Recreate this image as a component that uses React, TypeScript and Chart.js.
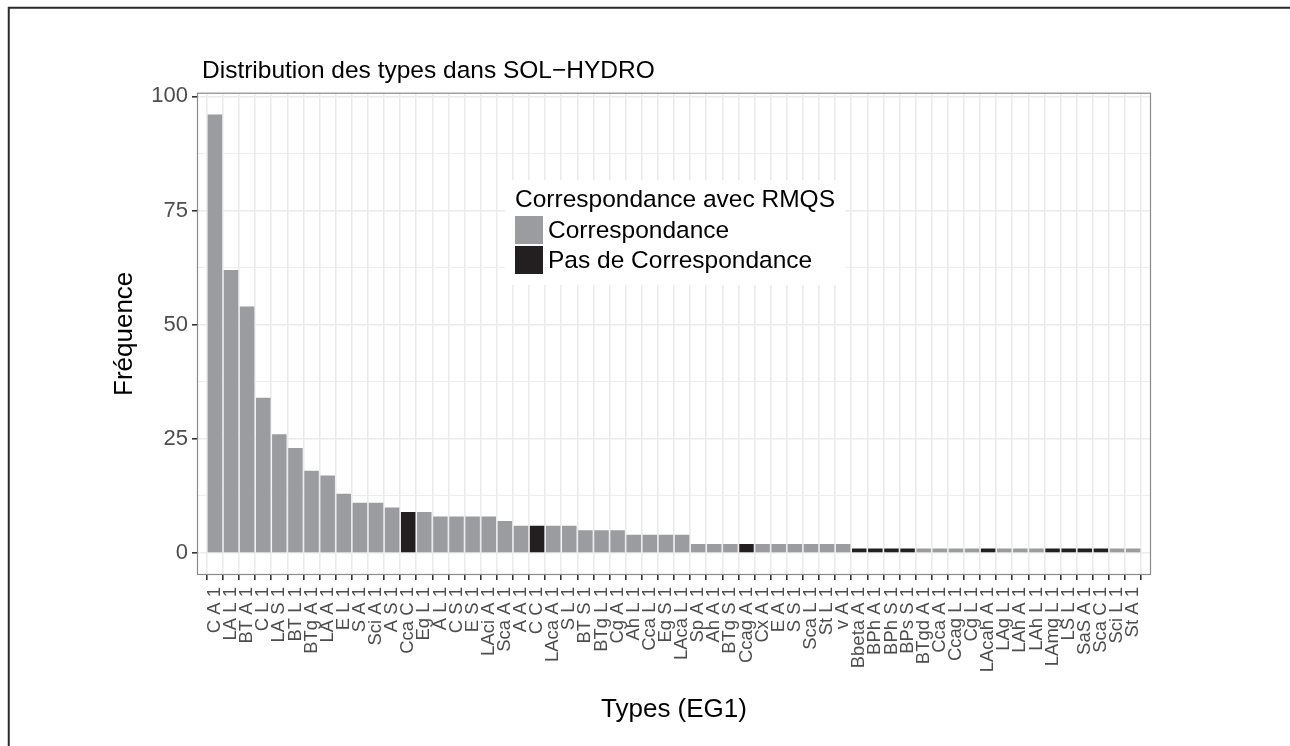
import React, { useEffect, useRef } from "react";
import { Chart, registerables } from "chart.js";

Chart.register(...registerables);

const plotTitle = "Distribution des types dans SOL−HYDRO";
const xAxisTitle = "Types (EG1)";
const yAxisTitle = "Fréquence";
const legendTitle = "Correspondance avec RMQS";
const seriesNames = ["Correspondance", "Pas de Correspondance"];

const types = [
  "C A 1", "LA L 1", "BT A 1", "C L 1", "LA S 1", "BT L 1", "BTg A 1", "LA A 1", "E L 1", "S A 1",
  "Sci A 1", "A S 1", "Cca C 1", "Eg L 1", "A L 1", "C S 1", "E S 1", "LAci A 1", "Sca A 1", "A A 1",
  "C C 1", "LAca A 1", "S L 1", "BT S 1", "BTg L 1", "Cg A 1", "Ah L 1", "Cca L 1", "Eg S 1", "LAca L 1",
  "Sp A 1", "Ah A 1", "BTg S 1", "Ccag A 1", "Cx A 1", "E A 1", "S S 1", "Sca L 1", "St L 1", "v A 1",
  "Bbeta A 1", "BPh A 1", "BPh S 1", "BPs S 1", "BTgd A 1", "Cca A 1", "Ccag L 1", "Cg L 1", "LAcah A 1", "LAg L 1",
  "LAh A 1", "LAh L 1", "LAmg L 1", "LS L 1", "SaS A 1", "Sca C 1", "Sci L 1", "St A 1",
];

const frequencies = [
  96, 62, 54, 34, 26, 23, 18, 17, 13, 11,
  11, 10, 9, 9, 8, 8, 8, 8, 7, 6,
  6, 6, 6, 5, 5, 5, 4, 4, 4, 4,
  2, 2, 2, 2, 2, 2, 2, 2, 2, 2,
  1, 1, 1, 1, 1, 1, 1, 1, 1, 1,
  1, 1, 1, 1, 1, 1, 1, 1,
];

const unmatchedTypes = [
  "Cca C 1", "C C 1", "Ccag A 1", "Bbeta A 1", "BPh A 1", "BPh S 1", "BPs S 1",
  "LAcah A 1", "LAmg L 1", "LS L 1", "SaS A 1", "Sca C 1",
];

const yMajorTicks = [0, 25, 50, 75, 100];
const yMinorTicks = [12.5, 37.5, 62.5, 87.5];

const FONT = "'Liberation Sans', Arial, Helvetica, sans-serif";
const GREY_BAR = "#9b9ca0";
const BLACK_BAR = "#231f20";
const GRID = "#ebebeb";

const decorPlugin = {
  id: "decor",
  beforeDraw(chart: any) {
    const ctx = chart.ctx;
    ctx.save();
    ctx.fillStyle = "#ffffff";
    ctx.fillRect(0, 0, chart.width, chart.height);
    ctx.restore();
  },
  afterDatasetsDraw(chart: any) {
    const { ctx, chartArea } = chart;
    ctx.save();
    ctx.strokeStyle = "#8a8a8a";
    ctx.lineWidth = 1.2;
    ctx.strokeRect(chartArea.left + 0.5, chartArea.top + 0.5, chartArea.right - chartArea.left - 1, chartArea.bottom - chartArea.top - 1);
    ctx.restore();
  },
  afterDraw(chart: any) {
    const { ctx, chartArea } = chart;
    ctx.save();
    // plot title
    ctx.fillStyle = "#000000";
    ctx.font = `24.5px ${FONT}`;
    ctx.textAlign = "left";
    ctx.textBaseline = "alphabetic";
    ctx.fillText(plotTitle, chartArea.left + 5, 78);

    // legend
    const lx = 505, ly = 180, lw = 340, lh = 105;
    ctx.fillStyle = "#ffffff";
    ctx.fillRect(lx, ly, lw, lh);
    ctx.fillStyle = "#000000";
    ctx.font = `24.5px ${FONT}`;
    ctx.fillText(legendTitle, 515, 207);
    const ds = chart.data.datasets;
    ds.forEach((d: any, i: number) => {
      const ky = 216 + i * 30;
      ctx.fillStyle = d.backgroundColor;
      ctx.fillRect(515, ky, 28, 28);
      ctx.fillStyle = "#000000";
      ctx.font = `24.5px ${FONT}`;
      ctx.fillText(d.label, 548, ky + 22);
    });

    // outer frame
    ctx.strokeStyle = "#2a2a2a";
    ctx.lineWidth = 2;
    ctx.beginPath();
    ctx.moveTo(8.75, chart.height + 2);
    ctx.lineTo(8.75, 7.75);
    ctx.lineTo(chart.width + 2, 7.75);
    ctx.stroke();
    ctx.restore();
  },
};

export default function App() {
  const canvasRef = useRef<HTMLCanvasElement | null>(null);

  useEffect(() => {
    if (!canvasRef.current) return;
    const points = types.map((t, i) => ({ x: i + 1, y: frequencies[i], t }));
    const matched = points.filter((p) => !unmatchedTypes.includes(p.t)).map((p) => ({ x: p.x, y: p.y }));
    const unmatched = points.filter((p) => unmatchedTypes.includes(p.t)).map((p) => ({ x: p.x, y: p.y }));

    const chart = new Chart(canvasRef.current, {
      type: "bar",
      data: {
        datasets: [
          {
            label: seriesNames[0],
            data: matched,
            backgroundColor: GREY_BAR,
            borderWidth: 0,
            grouped: false,
            categoryPercentage: 1,
            barPercentage: 0.9,
          } as any,
          {
            label: seriesNames[1],
            data: unmatched,
            backgroundColor: BLACK_BAR,
            borderWidth: 0,
            grouped: false,
            categoryPercentage: 1,
            barPercentage: 0.9,
          } as any,
        ],
      },
      options: {
        animation: false,
        responsive: false,
        maintainAspectRatio: false,
        layout: { padding: { left: 0, right: 139, top: 92.7, bottom: 21 } },
        plugins: {
          legend: { display: false },
          tooltip: { enabled: false },
          title: { display: false },
        },
        scales: {
          x: {
            type: "linear",
            min: 0.4,
            max: types.length + 0.6,
            afterBuildTicks: (scale: any) => {
              scale.ticks = types.map((_, i) => ({ value: i + 1 }));
            },
            afterFit: (scale: any) => {
              scale.height = 150;
            },
            grid: {
              color: GRID,
              lineWidth: 1.6,
              tickColor: "#333333",
              tickLength: 5,
              drawTicks: true,
            },
            border: { display: false },
            ticks: {
              autoSkip: false,
              maxRotation: 90,
              minRotation: 90,
              padding: 7,
              color: "#4d4d4d",
              font: { family: FONT, size: 18.5 },
              callback: (_v: any, index: number) => types[index],
            },
            title: {
              display: true,
              text: xAxisTitle,
              color: "#000000",
              font: { family: FONT, size: 26 },
              padding: { top: 4.4, bottom: 0 },
            },
          },
          y: {
            type: "linear",
            min: -4.8,
            max: 100.8,
            afterBuildTicks: (scale: any) => {
              scale.ticks = [...yMajorTicks, ...yMinorTicks]
                .sort((a, b) => a - b)
                .map((v) => ({ value: v }));
            },
            afterFit: (scale: any) => {
              scale.width = 197;
            },
            grid: {
              color: GRID,
              lineWidth: (c: any) => (c.tick && yMajorTicks.includes(c.tick.value) ? 1.6 : 0.9),
              tickColor: (c: any) => (c.tick && yMajorTicks.includes(c.tick.value) ? "#333333" : "rgba(0,0,0,0)"),
              tickLength: 5,
              drawTicks: true,
            },
            border: { display: false },
            ticks: {
              autoSkip: false,
              padding: 4,
              color: "#4d4d4d",
              font: { family: FONT, size: 22 },
              callback: (v: any) => (yMajorTicks.includes(v) ? String(v) : ""),
            },
            title: {
              display: true,
              text: yAxisTitle,
              color: "#000000",
              font: { family: FONT, size: 26 },
              padding: { top: 109.4, bottom: 0 },
            },
          },
        },
      } as any,
      plugins: [decorPlugin],
    });
    return () => chart.destroy();
  }, []);

  return (
    <div style={{ position: "fixed", left: 0, top: 0, width: 1290, height: 746, background: "#fff" }}>
      <canvas ref={canvasRef} width={1290} height={746} style={{ width: 1290, height: 746, display: "block" }} />
    </div>
  );
}
